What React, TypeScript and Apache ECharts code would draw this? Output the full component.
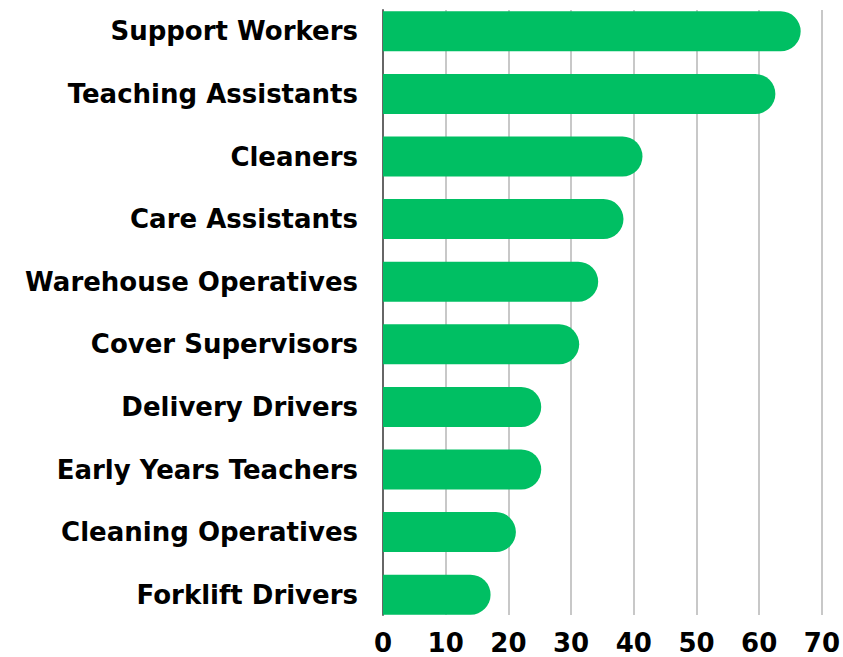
import React, { useEffect, useRef } from "react";
import * as echarts from "echarts";

const categories = [
  "Support Workers",
  "Teaching Assistants",
  "Cleaners",
  "Care Assistants",
  "Warehouse Operatives",
  "Cover Supervisors",
  "Delivery Drivers",
  "Early Years Teachers",
  "Cleaning Operatives",
  "Forklift Drivers",
];
const values = [66, 62, 41, 38, 34, 31, 25, 25, 21, 17];
const xMin = 0;
const xMax = 70;
const xInterval = 10;

const FONT = "'DejaVu Sans', 'Noto Sans', sans-serif";

export default function App() {
  const ref = useRef<HTMLDivElement>(null);
  useEffect(() => {
    if (!ref.current) return;
    const chart = echarts.init(ref.current, null, { renderer: "svg" });
    chart.setOption({
      animation: false,
      grid: [
        { left: 383, right: 17, top: 10, height: 605 },
        { left: 383, right: 17, top: -1, height: 627 },
      ],
      xAxis: [
        {
          gridIndex: 0,
          type: "value",
          min: xMin,
          max: xMax,
          interval: xInterval,
          axisLine: { show: false },
          axisTick: { show: false },
          splitLine: { show: true, lineStyle: { color: "#c8c8c8", width: 2 } },
          axisLabel: {
            margin: 15,
            color: "#000",
            fontFamily: FONT,
            fontWeight: "bold",
            fontSize: 26,
          },
        },
        {
          gridIndex: 1,
          type: "value",
          min: xMin,
          max: xMax,
          show: false,
        },
      ],
      yAxis: [
        {
          gridIndex: 0,
          type: "value",
          min: 0,
          max: 1,
          axisLine: { show: true, lineStyle: { color: "#666", width: 2 } },
          axisTick: { show: false },
          axisLabel: { show: false },
          splitLine: { show: false },
        },
        {
          gridIndex: 1,
          type: "category",
          data: categories,
          inverse: true,
          axisLine: { show: false },
          axisTick: { show: false },
          splitLine: { show: false },
          axisLabel: {
            margin: 25,
            color: "#000",
            fontFamily: FONT,
            fontWeight: "bold",
            fontSize: 26,
          },
        },
      ],
      series: [
        {
          type: "scatter",
          xAxisIndex: 0,
          yAxisIndex: 0,
          data: [],
        },
        {
          type: "bar",
          xAxisIndex: 1,
          yAxisIndex: 1,
          data: values,
          barWidth: 40,
          itemStyle: { color: "#00BF63", borderRadius: [0, 20, 20, 0] },
          z: 3,
        },
      ],
    });
    return () => chart.dispose();
  }, []);
  return <div ref={ref} style={{ width: 843, height: 657, position: "absolute", left: 0, top: 0 }} />;
}
